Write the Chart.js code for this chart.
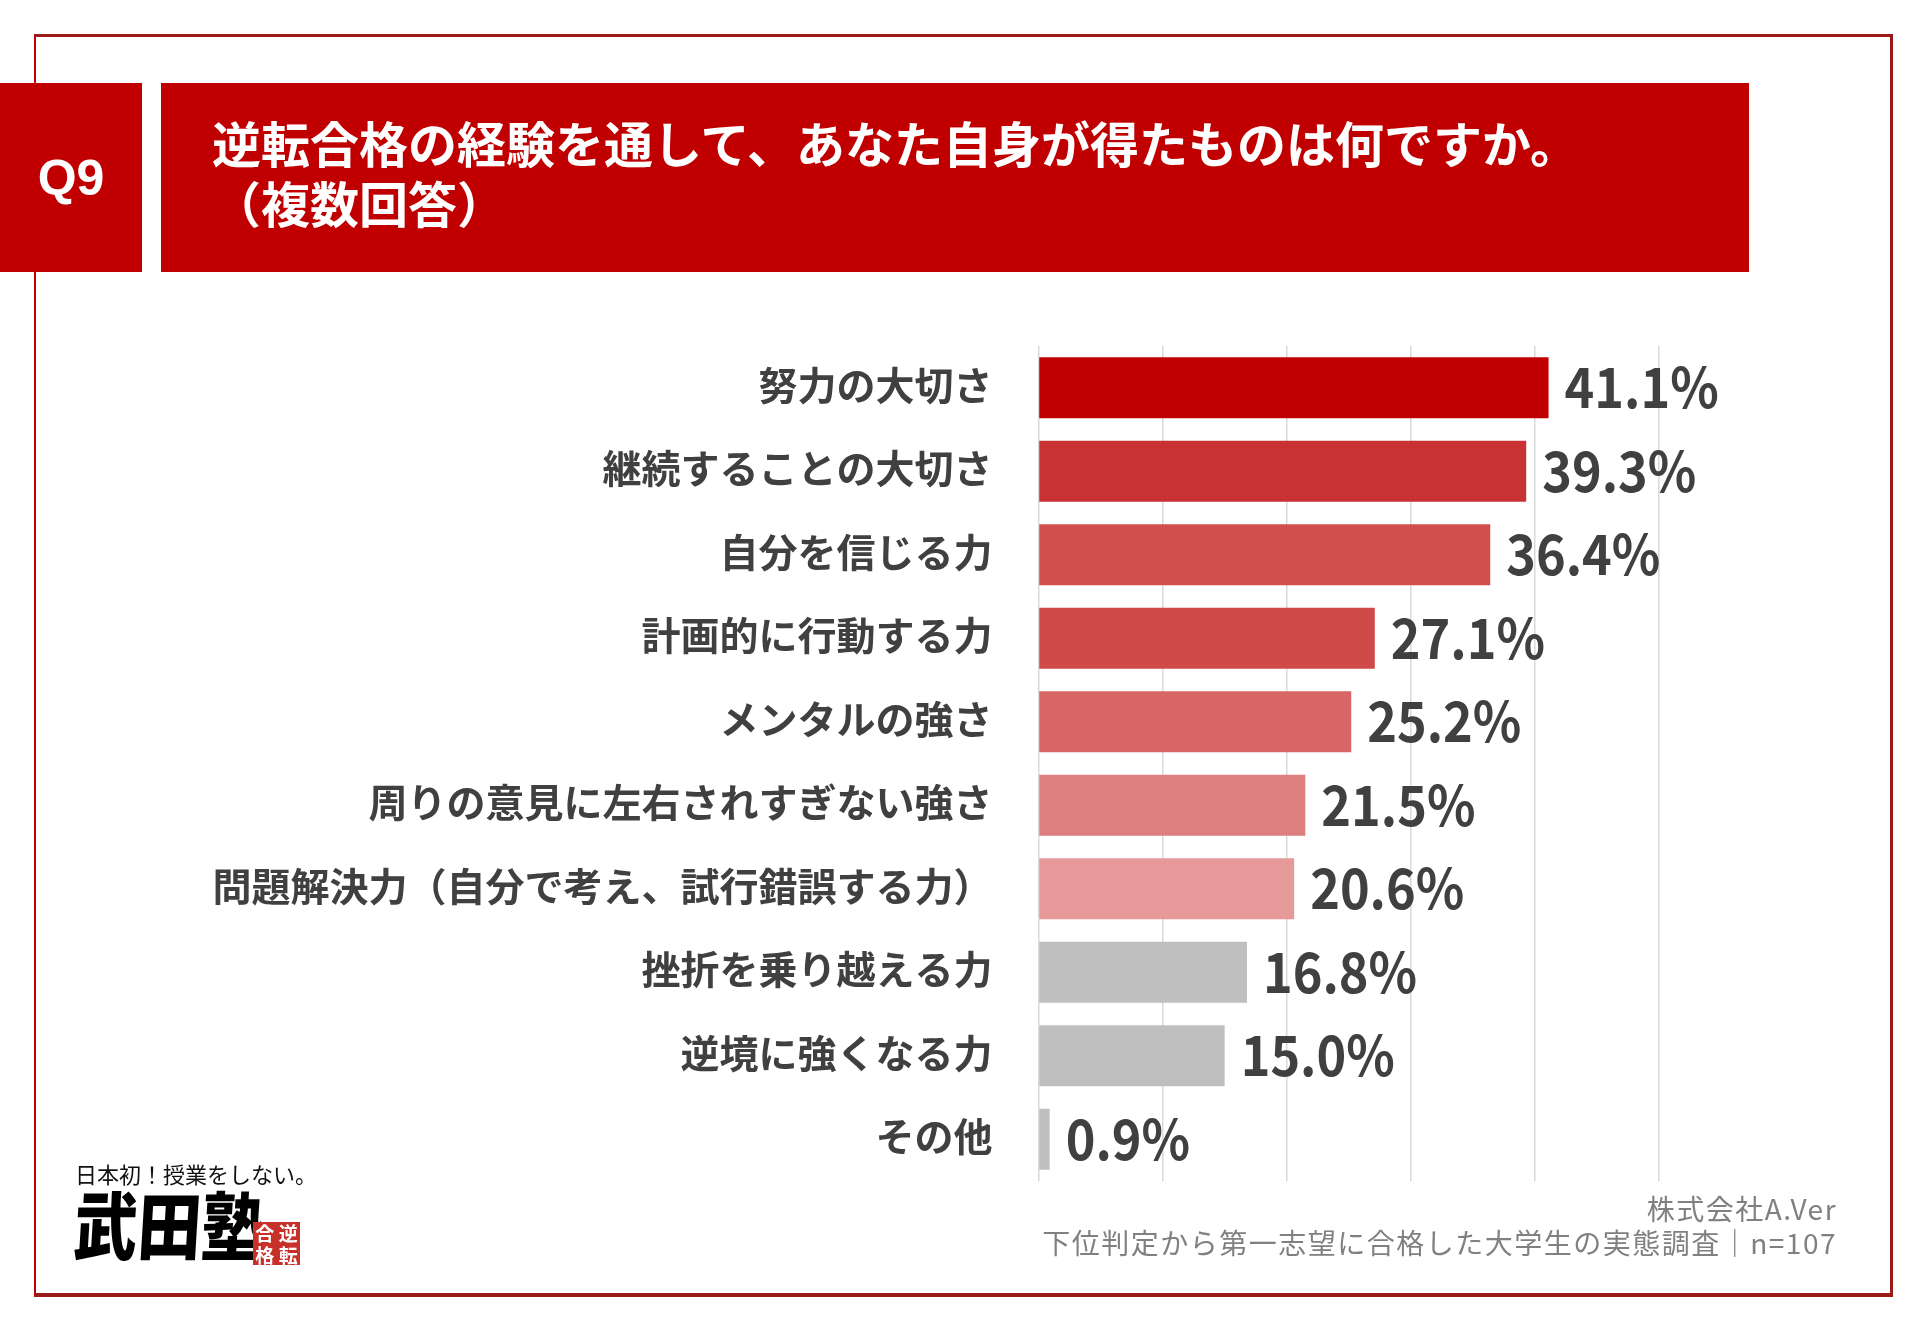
<!DOCTYPE html>
<html><head><meta charset="utf-8">
<script src="https://cdn.jsdelivr.net/npm/chart.js@4.4.1/dist/chart.umd.min.js"></script>
<style>
html,body{margin:0;padding:0;background:#fff;}
body{width:1920px;height:1329px;position:relative;overflow:hidden;font-family:"Noto Sans CJK JP","Noto Sans",sans-serif;}
#frame{position:absolute;left:34px;top:34px;width:1859px;height:1263px;box-sizing:border-box;border:3px solid #9b1b1b;border-left:2px solid #c00000;border-bottom:4px solid #9b1b1b;}
#q{position:absolute;left:0;top:83px;width:142px;height:189px;background:#c00000;color:#fff;font:bold 50px "Liberation Sans",Arial,sans-serif;display:flex;align-items:center;justify-content:center;}
#tbox{position:absolute;left:161px;top:83px;width:1588px;height:189px;background:#c00000;}
.tl{position:absolute;left:212px;color:#fff;font-weight:bold;font-size:49px;line-height:48px;white-space:nowrap;}
#chartwrap{position:absolute;left:0;top:300px;width:1920px;height:900px;}
.foot{position:absolute;right:83px;color:#808080;font-size:28px;line-height:34px;white-space:nowrap;letter-spacing:1.5px;}
#slogan{position:absolute;left:75px;top:1160px;font-size:22px;line-height:26px;color:#111;white-space:nowrap;}
#logo{position:absolute;left:77px;top:1180px;font-size:74px;line-height:84px;font-weight:900;color:#000;white-space:nowrap;transform-origin:0 0;transform:scaleX(0.86) skewX(-4deg);}
#stamp{position:absolute;left:253px;top:1222px;width:47px;height:43px;background:#c8302a;color:#fff;font-size:19px;line-height:21px;font-weight:bold;display:grid;grid-template-columns:1fr 1fr;text-align:center;}
</style></head>
<body>
<div id="frame"></div>
<div id="q">Q9</div>
<div id="tbox"></div>
<div class="tl" id="t1" style="top:118px">逆転合格の経験を通して、あなた自身が得たものは何ですか。</div>
<div class="tl" id="t2" style="top:178px">（複数回答）</div>
<div id="chartwrap"><canvas id="c" width="1920" height="900" style="width:1920px;height:900px"></canvas></div>
<div id="slogan">日本初！授業をしない。</div>
<div id="logo">武田塾</div>
<div id="stamp"><span>合</span><span>逆</span><span>格</span><span>転</span></div>
<div class="foot" style="top:1191px">株式会社A.Ver</div>
<div class="foot" style="top:1225px">下位判定から第一志望に合格した大学生の実態調査｜n=107</div>
<script>
const categories = ['努力の大切さ','継続することの大切さ','自分を信じる力','計画的に行動する力','メンタルの強さ','周りの意見に左右されすぎない強さ','問題解決力（自分で考え、試行錯誤する力）','挫折を乗り越える力','逆境に強くなる力','その他'];
const values = [41.1,39.3,36.4,27.1,25.2,21.5,20.6,16.8,15.0,0.9];
const barColors = ['#c00000','#c83232','#d24f4f','#d04a4a','#d96666','#de7f7f','#e59999','#bfbfbf','#bfbfbf','#bfbfbf'];
const xMin = 0, xMax = 50, xStep = 10;

const valueLabels = {
  id:'valueLabels',
  afterDatasetsDraw(chart){
    const ctx = chart.ctx;
    const meta = chart.getDatasetMeta(0);
    ctx.save();
    ctx.fillStyle = '#404040';
    ctx.font = 'bold 56px "Noto Sans CJK JP", sans-serif';
    ctx.textAlign = 'left';
    ctx.textBaseline = 'middle';
    meta.data.forEach((bar,i)=>{
      ctx.save();
      ctx.translate(bar.x + 16, bar.y - 1);
      ctx.scale(0.9, 1);
      ctx.fillText(values[i].toFixed(1)+'%', 0, 0);
      ctx.restore();
    });
    ctx.restore();
  }
};

new Chart(document.getElementById('c'), {
  type:'bar',
  data:{labels:categories, datasets:[{data:values, backgroundColor:barColors, borderWidth:0, categoryPercentage:1, barPercentage:0.73}]},
  options:{
    indexAxis:'y',
    responsive:false,
    animation:false,
    events:[],
    layout:{padding:{left:0,right:261,top:46,bottom:19}},
    plugins:{legend:{display:false},tooltip:{enabled:false},title:{display:false}},
    scales:{
      x:{min:xMin,max:xMax,ticks:{display:false,stepSize:xStep},grid:{color:'#d9d9d9',lineWidth:1.5,drawTicks:false},border:{display:false},
         afterFit(s){s.height=0;s.paddingLeft=0;s.paddingRight=0;s.paddingTop=0;s.paddingBottom=0;}},
      y:{ticks:{color:'#404040',font:{family:'"Noto Sans CJK JP", sans-serif',size:39,weight:'bold'},padding:46,labelOffset:-3},grid:{display:false,drawTicks:false},border:{display:false},
         afterFit(s){s.width=1038.5;s.paddingTop=0;s.paddingBottom=0;s.paddingLeft=0;s.paddingRight=0;}}
    }
  },
  plugins:[valueLabels]
});
</script>
</body></html>
